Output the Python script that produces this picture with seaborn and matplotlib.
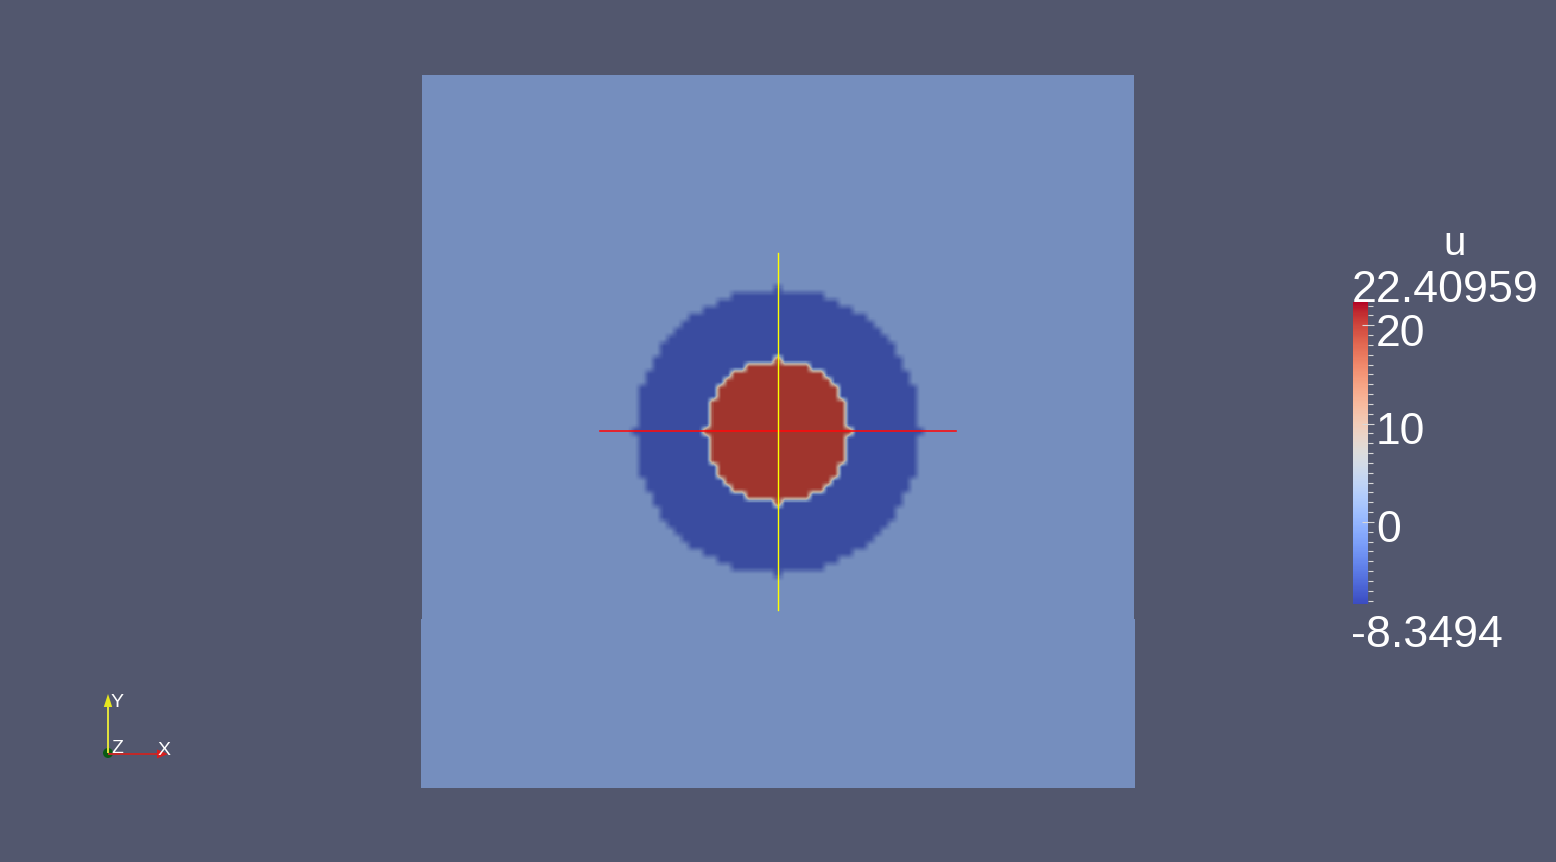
import numpy as np
import matplotlib
matplotlib.use("Agg")
import matplotlib.pyplot as plt
import seaborn as sns
from matplotlib.colors import LinearSegmentedColormap, Normalize
from matplotlib.cm import ScalarMappable
from matplotlib.patches import Rectangle, Circle, Polygon
from matplotlib.ticker import FixedLocator
from matplotlib.transforms import ScaledTranslation, blended_transform_factory

# field u on a 101 x 101 node mesh over [-1, 1] x [-1, 1]
n_nodes = 101
disk_radius = 0.2
ring_radius = 0.4
u_disk = 22.40959
u_ring = -8.3494
u_outside = 0.0

# colour bar
u_min, u_max = -8.3494, 22.40959
cbar_title = "u"
cbar_major = [0, 10, 20]
cbar_minor = list(range(-8, 23))

# probe lines through the centre
probe_span = [-0.5, 0.5]

# triad labels
triad_labels = ["Y", "Z", "X"]

W, H = 1556, 862
BG = "#52576e"
FIELD_BG = "#758ebe"

plt.rcParams["font.family"] = ["Liberation Sans", "DejaVu Sans"]

# node values
xs = np.linspace(-1, 1, n_nodes)
X, Y = np.meshgrid(xs, xs)
R = np.hypot(X, Y)
u = np.where(R <= disk_radius + 1e-6, u_disk,
             np.where(R <= ring_radius + 1e-6, u_ring, u_outside))

# interpolate node values onto a finer mesh (scalars interpolated before mapping)
sub = 6
t = (np.arange((n_nodes - 1) * sub) + 0.5) / sub
i0 = np.floor(t).astype(int)
f = t - i0
Wm = np.zeros((len(t), n_nodes))
Wm[np.arange(len(t)), i0] = 1 - f
Wm[np.arange(len(t)), i0 + 1] = f
u_fine = Wm @ u @ Wm.T

norm = Normalize(u_min, u_max)
# lit surface colours of the cool-to-warm map
shaded = LinearSegmentedColormap.from_list(
    "shaded",
    [(0.0, "#3a4ca0"), (norm(u_outside), FIELD_BG), (0.5, "#c4b3a3"), (1.0, "#a0352d")],
)

fig = plt.figure(figsize=(W / 100, H / 100 + 0.001), dpi=100, facecolor=BG)


def px_rect(x0, y0, x1, y1):
    return [x0 / W, (H - y1) / H, (x1 - x0) / W, (y1 - y0) / H]


# slightly wider lower piece of the slice
fig.add_artist(Rectangle((421 / W, (H - 788) / H), 714 / W, 169 / H,
                         transform=fig.transFigure, color=FIELD_BG, zorder=-1, lw=0))

ax = fig.add_axes(px_rect(421.5, 75, 1134, 788))
sns.heatmap(np.flipud(u_fine), ax=ax, cmap=shaded, norm=norm, cbar=False,
            xticklabels=False, yticklabels=False, linewidths=0)
ax.set_axis_off()

# probe lines
axp = fig.add_axes(px_rect(421.5, 75, 1134, 788), facecolor="none")
axp.set_xlim(-1, 1)
axp.set_ylim(-1, 1)
axp.plot(probe_span, [0, 0], color="#ff0a0a", lw=1.15)
axp.plot([0, 0], probe_span, color="#ffff00", lw=1.0)
axp.set_axis_off()

# colour bar
cax = fig.add_axes(px_rect(1352.7, 301.7, 1368.3, 604))
cb = fig.colorbar(ScalarMappable(norm=norm, cmap="coolwarm"), cax=cax)
cb.outline.set_visible(False)
cb.set_ticks(cbar_major)
cb.minorlocator = FixedLocator(cbar_minor)
cax.yaxis.set_ticks_position("right")
cax.tick_params(which="major", direction="inout", length=8.4, width=0.8,
                color="#d8d8d8", labelright=False, labelleft=False)
cax.tick_params(which="minor", direction="out", length=3.6, width=0.8,
                color="#d8d8d8")
tr = blended_transform_factory(cax.transAxes, cax.transData) + \
    ScaledTranslation(0.077, -0.203, fig.dpi_scale_trans)
for v in cbar_major:
    cax.text(1.0, v, str(v), transform=tr, ha="left", va="baseline",
             color="white", fontsize=32)

# pixel overlay for labels and triad
ov = fig.add_axes([0, 0, 1, 1], facecolor="none")
ov.set_xlim(0, W)
ov.set_ylim(H, 0)
ov.set_axis_off()

ov.text(1455, 255, cbar_title, ha="center", va="baseline", color="white", fontsize=29)
ov.text(1352, 301.5, f"{u_max:.5f}", ha="left", va="baseline", color="white", fontsize=32.2)
ov.text(1351.5, 647, f"{u_min:.4f}", ha="left", va="baseline", color="white", fontsize=32.2)

# orientation triad
ov.plot([108, 108], [753, 707], color="#e6e63c", lw=1.4, solid_capstyle="butt")
ov.add_patch(Polygon([(103.8, 707), (112.2, 707), (108, 694)], closed=True,
                     color="#e6e61e", lw=0))
ov.plot([108, 157], [754, 754], color="#c42828", lw=1.4, solid_capstyle="butt")
ov.add_patch(Polygon([(157, 749.5), (157, 758.5), (168, 754)], closed=True,
                     color="#d81e1e", lw=0))
ov.add_patch(Circle((108, 753), 5, color="#0a5a14", lw=0))
ov.text(110.5, 706.5, triad_labels[0], color="white", fontsize=14, va="baseline")
ov.text(111, 753.3, triad_labels[1], color="white", fontsize=14, va="baseline")
ov.text(158, 755, triad_labels[2], color="white", fontsize=14, va="baseline")

fig.savefig("out.png", dpi=100, facecolor=BG)
